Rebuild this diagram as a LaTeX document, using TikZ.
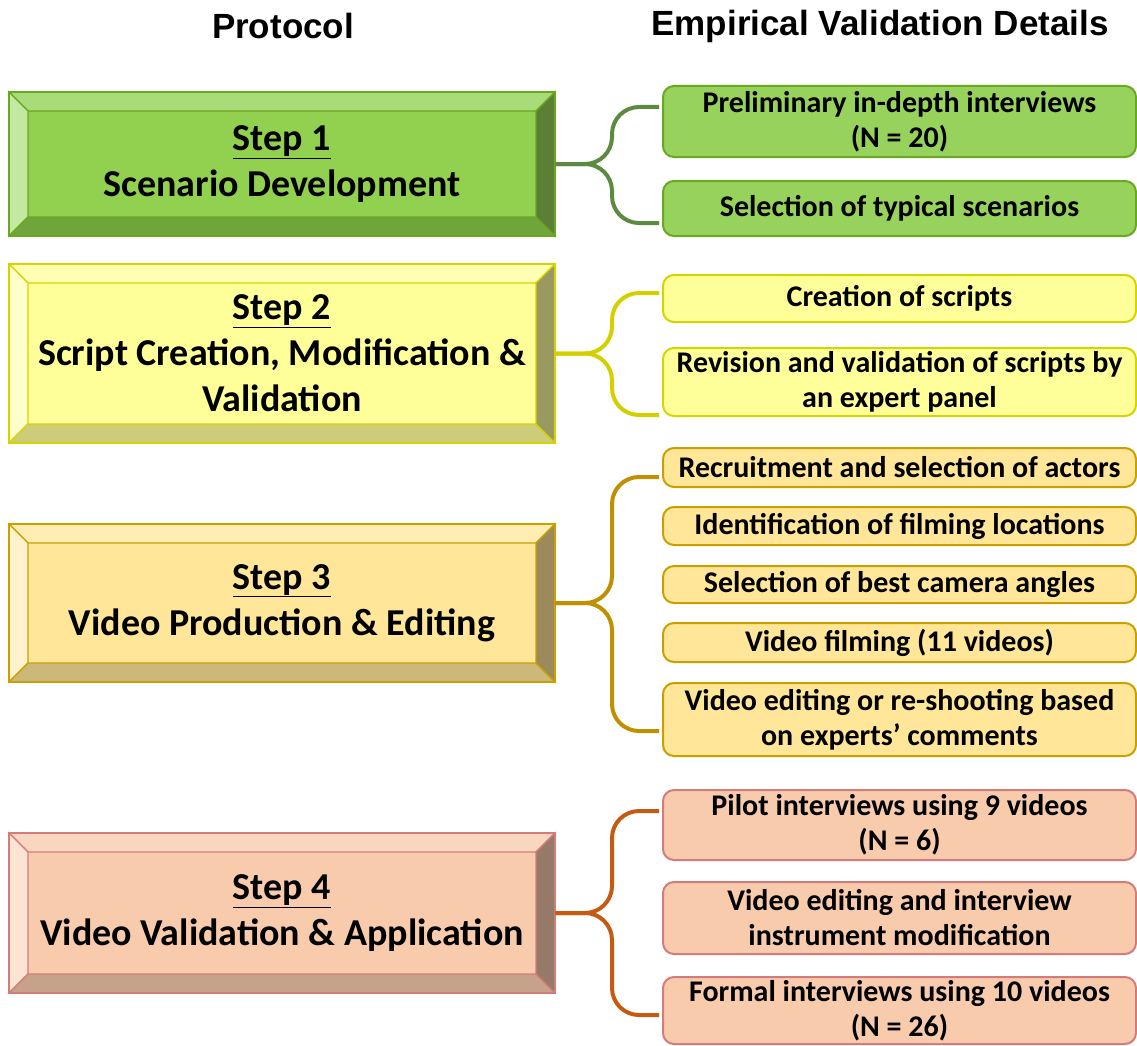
\documentclass[tikz,border=0pt]{standalone}
\usepackage{fontspec}
\setmainfont{Carlito}
\newfontfamily\headfont{Liberation Sans}
\usetikzlibrary{calc}
% step 1 colours
\definecolor{gMain}{HTML}{92D050}
\definecolor{gTop}{HTML}{A9DC78}
\definecolor{gLeft}{HTML}{C2E8A2}
\definecolor{gBot}{HTML}{6FA53A}
\definecolor{gRight}{HTML}{5A7F35}
\definecolor{gBorder}{HTML}{6AA820}
\definecolor{gFill}{HTML}{97D25C}
\definecolor{gBrace}{HTML}{5B8A40}
% step 2 colours
\definecolor{yMain}{HTML}{FFFF99}
\definecolor{yTop}{HTML}{FFFFB3}
\definecolor{yLeft}{HTML}{FFFFCC}
\definecolor{yBot}{HTML}{CCCC7A}
\definecolor{yRight}{HTML}{999960}
\definecolor{yBorder}{HTML}{D4D400}
\definecolor{yFill}{HTML}{FFFF99}
\definecolor{yBrace}{HTML}{D4D000}
% step 3 colours
\definecolor{oMain}{HTML}{FFE699}
\definecolor{oTop}{HTML}{FFEDB3}
\definecolor{oLeft}{HTML}{FFF2CC}
\definecolor{oBot}{HTML}{CCB87A}
\definecolor{oRight}{HTML}{9C8A5C}
\definecolor{oBorder}{HTML}{C9A000}
\definecolor{oFill}{HTML}{FFE699}
\definecolor{oBrace}{HTML}{C09000}
% step 4 colours
\definecolor{pMain}{HTML}{F8CBAD}
\definecolor{pTop}{HTML}{F9D6BF}
\definecolor{pLeft}{HTML}{FCE3D3}
\definecolor{pBot}{HTML}{C6A28A}
\definecolor{pRight}{HTML}{957A68}
\definecolor{pBorder}{HTML}{D47C7C}
\definecolor{pFill}{HTML}{F8CBAD}
\definecolor{pBrace}{HTML}{C55A11}
\newcommand\mybevel[6]{%
  \path[draw=#6, line width=1.2pt, fill=#2] (#1.north west) -- (#1.north east) -- ($(#1.north east)+(-19,19)$) -- ($(#1.north west)+(19,19)$) -- cycle;
  \path[draw=#6, line width=1.2pt, fill=#3] (#1.north west) -- ($(#1.north west)+(19,19)$) -- ($(#1.south west)+(19,-19)$) -- (#1.south west) -- cycle;
  \path[draw=#6, line width=1.2pt, fill=#4] (#1.south west) -- ($(#1.south west)+(19,-19)$) -- ($(#1.south east)+(-19,-19)$) -- (#1.south east) -- cycle;
  \path[draw=#6, line width=1.2pt, fill=#5] (#1.north east) -- (#1.south east) -- ($(#1.south east)+(-19,-19)$) -- ($(#1.north east)+(-19,19)$) -- cycle;
  \draw[#6, line width=2pt] (#1.north west) rectangle (#1.south east);
}
\newcommand\stepul[1]{\underline{#1}}
\begin{document}
\begin{tikzpicture}[x=1pt,y=-1pt,
  lbox/.style={draw, line width=2pt, inner sep=0pt, align=center, minimum width=544pt,
    font=\bfseries\fontsize{38}{46}\selectfont},
  rbox/.style={draw, line width=2pt, rounded corners=11pt, inner sep=0pt, align=center,
    minimum width=473pt, font=\bfseries\fontsize{30}{35}\selectfont},
  brace/.style={line width=4pt, rounded corners=27pt}]
\useasboundingbox[fill=white] (0,0) rectangle (1137,1046);

% headings
\node[font=\headfont\bfseries\fontsize{35}{40}\selectfont] (h1) at (283,26) {Protocol};
\node[font=\headfont\bfseries\fontsize{35}{40}\selectfont] (h2) at (880,26) {Empirical Validation Details};

% left step boxes
\node[lbox, fill=gMain, draw=gBorder, minimum height=142pt] (s1) at (282,164) {\stepul{Step 1}\\Scenario Development};
\mybevel{s1}{gTop}{gLeft}{gBot}{gRight}{gBorder}
\node[lbox, fill=yMain, draw=yBorder, minimum height=177pt] (s2) at (282,353.5) {\stepul{Step 2}\\Script Creation, Modification \&\\Validation};
\mybevel{s2}{yTop}{yLeft}{yBot}{yRight}{yBorder}
\node[lbox, fill=oMain, draw=oBorder, minimum height=156pt] (s3) at (282,603) {\stepul{Step 3}\\Video Production \& Editing};
\mybevel{s3}{oTop}{oLeft}{oBot}{oRight}{oBorder}
\node[lbox, fill=pMain, draw=pBorder, minimum height=158pt] (s4) at (282,913) {\stepul{Step 4}\\Video Validation \& Application};
\mybevel{s4}{pTop}{pLeft}{pBot}{pRight}{pBorder}

% right detail boxes
\node[rbox, fill=gFill, draw=gBorder, minimum height=71pt] (r11) at (899.5,121.5) {Preliminary in-depth interviews\\(N = 20)};
\node[rbox, fill=gFill, draw=gBorder, minimum height=55pt] (r12) at (899.5,208.5) {Selection of typical scenarios};

\node[rbox, fill=yFill, draw=yBorder, minimum height=47pt] (r21) at (899.5,298.5) {Creation of scripts};
\node[rbox, fill=yFill, draw=yBorder, minimum height=68pt] (r22) at (899.5,382) {Revision and validation of scripts by\\an expert panel};

\node[rbox, fill=oFill, draw=oBorder, minimum height=39pt] (r31) at (899.5,467.5) {Recruitment and selection of actors};
\node[rbox, fill=oFill, draw=oBorder, minimum height=38pt] (r32) at (899.5,526) {Identification of filming locations};
\node[rbox, fill=oFill, draw=oBorder, minimum height=37pt] (r33) at (899.5,584.5) {Selection of best camera angles};
\node[rbox, fill=oFill, draw=oBorder, minimum height=39pt] (r34) at (899.5,642.5) {Video filming (11 videos)};
\node[rbox, fill=oFill, draw=oBorder, minimum height=73pt] (r35) at (899.5,719.5) {Video editing or re-shooting based\\on experts’ comments};

\node[rbox, fill=pFill, draw=pBorder, minimum height=70pt] (r41) at (899.5,825) {Pilot interviews using 9 videos\\(N = 6)};
\node[rbox, fill=pFill, draw=pBorder, minimum height=72pt] (r42) at (899.5,918) {Video editing and interview\\instrument modification};
\node[rbox, fill=pFill, draw=pBorder, minimum height=67pt] (r43) at (899.5,1010.5) {Formal interviews using 10 videos\\(N = 26)};

% brace tips
\coordinate (t1a) at (659,107);
\coordinate (t1b) at (659,223);
\coordinate (t2a) at (659,293);
\coordinate (t2b) at (659,415);
\coordinate (t3a) at (659,477);
\coordinate (t3b) at (659,731);
\coordinate (t4a) at (659,811);
\coordinate (t4b) at (659,1015);

% braces
\draw[brace, gBrace] (s1.east) -- (612,164) -- (612,107) -- (t1a);
\draw[brace, gBrace] (s1.east) -- (612,164) -- (612,223) -- (t1b);
\draw[brace, yBrace] (s2.east) -- (612,353.5) -- (612,293) -- (t2a);
\draw[brace, yBrace] (s2.east) -- (612,353.5) -- (612,415) -- (t2b);
\draw[brace, oBrace] (s3.east) -- (612,603) -- (612,477) -- (t3a);
\draw[brace, oBrace] (s3.east) -- (612,603) -- (612,731) -- (t3b);
\draw[brace, pBrace] (s4.east) -- (612,913) -- (612,811) -- (t4a);
\draw[brace, pBrace] (s4.east) -- (612,913) -- (612,1015) -- (t4b);
\end{tikzpicture}
\end{document}
